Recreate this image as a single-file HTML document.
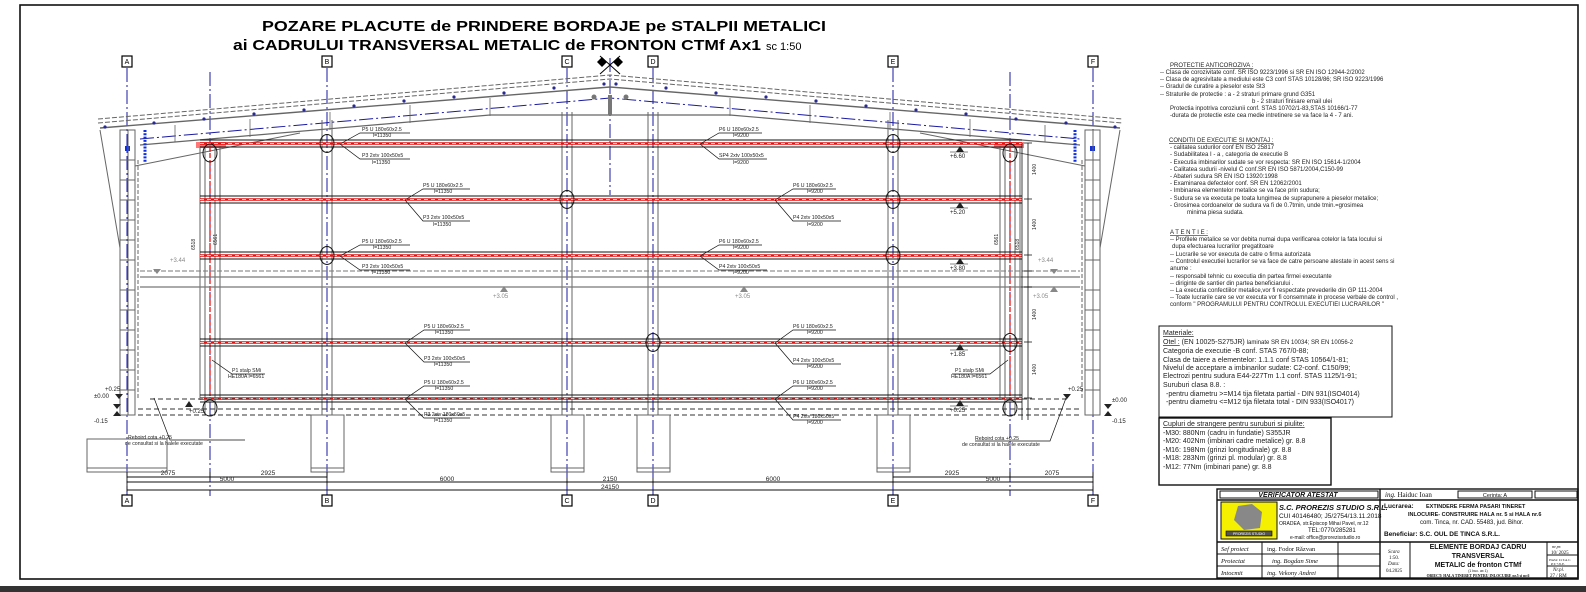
<!DOCTYPE html>
<html><head><meta charset="utf-8"><style>
html,body{margin:0;padding:0;background:#fff;}
svg{display:block;font-family:"Liberation Sans",sans-serif;}
</style></head><body>
<svg width="1586" height="592" viewBox="0 0 1586 592" xmlns="http://www.w3.org/2000/svg">
<rect x="0" y="0" width="1586" height="592" fill="#fff"/>
<rect x="20" y="5" width="1558" height="574" fill="none" stroke="#111" stroke-width="1.6"/>
<rect x="0" y="586" width="1586" height="6" fill="#333"/>

<text x="544" y="31" font-size="15" font-weight="bold" text-anchor="middle" textLength="564" lengthAdjust="spacingAndGlyphs">POZARE PLACUTE de PRINDERE BORDAJE pe STALPII METALICI</text>
<text x="233" y="50" font-size="15" font-weight="bold" textLength="528" lengthAdjust="spacingAndGlyphs">ai CADRULUI TRANSVERSAL METALIC de FRONTON CTMf Ax1</text>
<text x="766" y="50" font-size="11">sc 1:50</text>

<g stroke="#1a1aa0" stroke-width="1" stroke-dasharray="14,3,2,3" fill="none">
<line x1="127" y1="68" x2="127" y2="498"/><line x1="327" y1="68" x2="327" y2="498"/>
<line x1="567" y1="68" x2="567" y2="498"/><line x1="653" y1="68" x2="653" y2="498"/>
<line x1="893" y1="68" x2="893" y2="498"/><line x1="1093" y1="68" x2="1093" y2="498"/>
<line x1="210" y1="72" x2="210" y2="496"/><line x1="1010" y1="72" x2="1010" y2="496"/>
<line x1="610" y1="58" x2="610" y2="195"/>
<polyline points="140,139 610,98 1080,139"/>
</g>
<g font-size="7" text-anchor="middle">
<g fill="#fff" stroke="#000" stroke-width="1.2">
<rect x="122" y="56" width="10" height="11"/><rect x="322" y="56" width="10" height="11"/><rect x="562" y="56" width="10" height="11"/><rect x="648" y="56" width="10" height="11"/><rect x="888" y="56" width="10" height="11"/><rect x="1088" y="56" width="10" height="11"/>
<rect x="122" y="495" width="10" height="11"/><rect x="322" y="495" width="10" height="11"/><rect x="562" y="495" width="10" height="11"/><rect x="648" y="495" width="10" height="11"/><rect x="888" y="495" width="10" height="11"/><rect x="1088" y="495" width="10" height="11"/>
</g>
<text x="127" y="64">A</text><text x="327" y="64">B</text><text x="567" y="64">C</text><text x="653" y="64">D</text><text x="893" y="64">E</text><text x="1093" y="64">F</text>
<text x="127" y="503">A</text><text x="327" y="503">B</text><text x="567" y="503">C</text><text x="653" y="503">D</text><text x="893" y="503">E</text><text x="1093" y="503">F</text>
</g>
<g fill="#000"><path d="M597,62 l5,-5 5,5 -5,5z"/><path d="M613,62 l5,-5 5,5 -5,5z"/></g>
<line x1="600" y1="56" x2="620" y2="74" stroke="#000"/><line x1="620" y1="56" x2="600" y2="74" stroke="#000"/>

<g fill="none" stroke="#666" stroke-width="1">
<polyline points="98,119 610,75 1122,119" stroke-dasharray="5,2"/>
<polyline points="98,123 610,79 1122,123" stroke-dasharray="5,2"/>
<polyline points="100,128 610,87 1120,128" stroke-width="1.4"/>
<polyline points="140,145 490,115 730,115 1080,145" stroke-width="1.2"/>
<line x1="135" y1="166" x2="300" y2="133"/><line x1="1085" y1="166" x2="920" y2="133"/>
<line x1="100" y1="130" x2="120" y2="248"/><line x1="1120" y1="130" x2="1100" y2="248"/>
<g stroke-width="0.8">
<line x1="175" y1="125" x2="175" y2="142"/><line x1="250" y1="119" x2="250" y2="137"/><line x1="330" y1="112" x2="330" y2="130"/><line x1="410" y1="105" x2="410" y2="123"/><line x1="490" y1="98" x2="490" y2="116"/>
<line x1="1045" y1="125" x2="1045" y2="142"/><line x1="970" y1="119" x2="970" y2="137"/><line x1="890" y1="112" x2="890" y2="130"/><line x1="810" y1="105" x2="810" y2="123"/><line x1="730" y1="98" x2="730" y2="116"/>
</g>
</g>
<g fill="#2a2a90">
<circle cx="105" cy="127" r="1.6"/><circle cx="154" cy="123" r="1.6"/><circle cx="204" cy="119" r="1.6"/><circle cx="254" cy="114" r="1.6"/><circle cx="304" cy="110" r="1.6"/><circle cx="354" cy="106" r="1.6"/><circle cx="404" cy="101" r="1.6"/><circle cx="454" cy="97" r="1.6"/><circle cx="504" cy="93" r="1.6"/><circle cx="554" cy="88" r="1.6"/><circle cx="604" cy="84" r="1.6"/>
<circle cx="1115" cy="127" r="1.6"/><circle cx="1066" cy="123" r="1.6"/><circle cx="1016" cy="119" r="1.6"/><circle cx="966" cy="114" r="1.6"/><circle cx="916" cy="110" r="1.6"/><circle cx="866" cy="106" r="1.6"/><circle cx="816" cy="101" r="1.6"/><circle cx="766" cy="97" r="1.6"/><circle cx="716" cy="93" r="1.6"/><circle cx="666" cy="88" r="1.6"/><circle cx="616" cy="84" r="1.6"/>
</g>
<g fill="#1030e0">
<rect x="125" y="146" width="5" height="5"/><rect x="1090" y="146" width="5" height="5"/>
</g>
<g stroke="#1030e0" stroke-width="3" stroke-dasharray="2,1.3"><line x1="145" y1="130" x2="145" y2="163"/><line x1="1075" y1="130" x2="1075" y2="163"/></g>
<g fill="#777"><circle cx="594" cy="97" r="2.5"/><circle cx="626" cy="97" r="2.5"/><rect x="608" y="95" width="4" height="20"/></g>

<g fill="none" stroke="#666" stroke-width="1">
<rect x="120" y="130" width="15" height="285"/><line x1="128" y1="130" x2="128" y2="415"/>
<rect x="1085" y="130" width="15" height="285"/><line x1="1093" y1="130" x2="1093" y2="415"/>
<path d="M120,160h15M120,180h15M120,200h15M120,220h15M120,240h15M120,260h15M120,290h15M120,310h15M120,330h15M120,350h15M120,370h15M120,390h15"/>
<path d="M1085,160h15M1085,180h15M1085,200h15M1085,220h15M1085,240h15M1085,260h15M1085,290h15M1085,310h15M1085,330h15M1085,350h15M1085,370h15M1085,390h15"/>
<line x1="138" y1="160" x2="138" y2="400" stroke-dasharray="4,2"/><line x1="1082" y1="160" x2="1082" y2="400" stroke-dasharray="4,2"/>
</g>

<g fill="none" stroke="#666" stroke-width="1">
<path d="M322,120V415M332,120V415M562,112V415M572,112V415M648,112V415M658,112V415M888,120V415M898,120V415"/>
<path d="M200,146V400M205,146V415M215,146V415M220,146V400M1000,146V400M1005,146V415M1015,146V415M1020,146V400"/>
</g>
<g stroke="#e00" stroke-width="1.2" stroke-dasharray="5,2"><line x1="210" y1="146" x2="210" y2="400"/><line x1="1010" y1="146" x2="1010" y2="400"/></g>
<rect x="196" y="142" width="30" height="6" fill="#f55" opacity="0.8"/><rect x="994" y="142" width="30" height="6" fill="#f55" opacity="0.8"/>

<g fill="none" stroke="#777">
<line x1="140" y1="271" x2="1080" y2="271" stroke-dasharray="5,2"/>
<line x1="140" y1="277" x2="1080" y2="277" stroke-width="1.3"/>
<line x1="140" y1="287" x2="1080" y2="287" stroke-width="1.3"/>
</g>

<g>
<g stroke="#111" stroke-width="0.9">
<path d="M200,140H1022M200,147H1022M200,196H1022M200,203H1022M200,252H1022M200,259H1022M200,339H1022M200,346H1022M200,395H1022M200,402H1022"/>
</g>
<g stroke="#e51010" stroke-width="2.6">
<path d="M200,143.5H1022M200,199.5H1022M200,255.5H1022M200,342.5H1022M200,398.5H1022"/>
</g>
<g stroke="#fff" stroke-width="0.8" stroke-dasharray="4,3">
<path d="M200,143.5H1022M200,199.5H1022M200,255.5H1022M200,342.5H1022M200,398.5H1022"/>
</g>
</g>
<g fill="none" stroke="#111" stroke-width="1">
<ellipse cx="327" cy="143.5" rx="7" ry="9"/><ellipse cx="893" cy="143.5" rx="7" ry="9"/>
<ellipse cx="567" cy="199.5" rx="7" ry="9"/><ellipse cx="893" cy="199.5" rx="7" ry="9"/>
<ellipse cx="327" cy="255.5" rx="7" ry="9"/><ellipse cx="893" cy="255.5" rx="7" ry="9"/>
<ellipse cx="653" cy="342.5" rx="7" ry="9"/><ellipse cx="1010" cy="342.5" rx="7" ry="9"/>
<ellipse cx="210" cy="153" rx="7" ry="9"/><ellipse cx="1010" cy="153" rx="7" ry="9"/>
<ellipse cx="210" cy="408" rx="7" ry="8"/><ellipse cx="1010" cy="408" rx="7" ry="8"/>
</g>

<g fill="none" stroke="#333" stroke-dasharray="5,3">
<line x1="150" y1="399" x2="1070" y2="399"/><line x1="138" y1="409" x2="1082" y2="409"/><line x1="138" y1="415" x2="1082" y2="415"/>
</g>
<g fill="none" stroke="#666">
<rect x="311" y="415" width="33" height="57"/><line x1="311" y1="468" x2="344" y2="468"/>
<rect x="551" y="415" width="33" height="57"/><line x1="551" y1="468" x2="584" y2="468"/>
<rect x="637" y="415" width="33" height="57"/><line x1="637" y1="468" x2="670" y2="468"/>
<rect x="877" y="415" width="33" height="57"/><line x1="877" y1="468" x2="910" y2="468"/>
<rect x="87" y="439" width="80" height="33"/><line x1="87" y1="468" x2="167" y2="468"/>
</g>

<g stroke="#111" stroke-width="0.9">
<line x1="127" y1="477" x2="327" y2="477"/><line x1="893" y1="477" x2="1093" y2="477"/>
<line x1="127" y1="482" x2="1093" y2="482"/><line x1="127" y1="490" x2="1093" y2="490"/>
<path d="M127,472V492M210,472V480M327,472V486M567,478V486M653,478V486M893,472V486M1010,472V480M1093,472V492"/>
</g>
<g font-size="6.5" text-anchor="middle" fill="#222">
<text x="168" y="475">2075</text><text x="268" y="475">2925</text><text x="952" y="475">2925</text><text x="1052" y="475">2075</text>
<text x="227" y="481">5000</text><text x="447" y="481">6000</text><text x="610" y="481">2150</text><text x="773" y="481">6000</text><text x="993" y="481">5000</text>
<text x="610" y="489">24150</text>
</g>

<g stroke="#111" stroke-width="0.8"><line x1="1028" y1="143" x2="1028" y2="420"/><line x1="1022" y1="143" x2="1022" y2="420"/>
<path d="M1024,143h8M1024,199h8M1024,255h8M1024,271h8M1024,287h8M1024,342h8M1024,398h8"/></g>
<g font-size="5" fill="#222">
<text transform="translate(1036,175) rotate(-90)">1400</text><text transform="translate(1036,230) rotate(-90)">1400</text><text transform="translate(1036,320) rotate(-90)">1400</text><text transform="translate(1036,375) rotate(-90)">1400</text>
<text transform="translate(1019,250) rotate(-90)">6518</text><text transform="translate(998,245) rotate(-90)">6561</text>
<text transform="translate(195,250) rotate(-90)">6518</text><text transform="translate(217,245) rotate(-90)">6561</text>
</g>

<g font-size="6" fill="#222">
<g><path d="M956,152l4,-6 4,6z"/><line x1="950" y1="152" x2="968" y2="152" stroke="#111" stroke-width="0.6"/><text x="950" y="158">+6.60</text></g>
<g><path d="M956,208l4,-6 4,6z"/><line x1="950" y1="208" x2="968" y2="208" stroke="#111" stroke-width="0.6"/><text x="950" y="214">+5.20</text></g>
<g><path d="M956,264l4,-6 4,6z"/><line x1="950" y1="264" x2="968" y2="264" stroke="#111" stroke-width="0.6"/><text x="950" y="270">+3.80</text></g>
<g><path d="M956,350l4,-6 4,6z"/><line x1="950" y1="350" x2="968" y2="350" stroke="#111" stroke-width="0.6"/><text x="950" y="356">+1.85</text></g>
<g><path d="M956,406l4,-6 4,6z"/><line x1="950" y1="406" x2="968" y2="406" stroke="#111" stroke-width="0.6"/><text x="950" y="412">+0.25</text></g>
<g><path d="M185,407l4,-6 4,6z"/><text x="189" y="413">+0.25</text></g>
<g fill="#888"><path d="M153,269l4,5 4,-5z"/><text x="170" y="262">+3.44</text><path d="M1050,269l4,5 4,-5z"/><text x="1038" y="262">+3.44</text>
<path d="M500,292l4,-6 4,6z"/><text x="493" y="298">+3.05</text><path d="M740,292l4,-6 4,6z"/><text x="735" y="298">+3.05</text><path d="M1050,292l4,-6 4,6z"/><text x="1033" y="298">+3.05</text></g>
<g><path d="M113,404l4,5 4,-5z"/><text x="94" y="398">±0.00</text><path d="M113,416l4,-5 4,5z"/><text x="94" y="423">-0.15</text>
<path d="M1104,404l4,5 4,-5z"/><text x="1112" y="402">±0.00</text><path d="M1104,416l4,-5 4,5z"/><text x="1112" y="423">-0.15</text>
<path d="M115,394l4,5 4,-5z"/><text x="105" y="391">+0.25</text>
<path d="M1063,394l4,5 4,-5z"/><text x="1068" y="391">+0.25</text></g>
</g>

<g font-size="5.2" fill="#222" stroke="none">
<text x="362" y="131">P5 U 180x60x2.5</text><text x="373" y="137">l=11350</text>
<text x="362" y="157">P3 2xtv 100x50x5</text><text x="372" y="164">l=11350</text>
<text x="423" y="187">P5 U 180x60x2.5</text><text x="434" y="193">l=11350</text>
<text x="423" y="219">P3 2xtv 100x50x5</text><text x="433" y="226">l=11350</text>
<text x="362" y="243">P5 U 180x60x2.5</text><text x="373" y="249">l=11350</text>
<text x="362" y="268">P3 2xtv 100x50x5</text><text x="372" y="274">l=11350</text>
<text x="424" y="328">P5 U 180x60x2.5</text><text x="435" y="334">l=11350</text>
<text x="424" y="360">P3 2xtv 100x50x5</text><text x="434" y="366">l=11350</text>
<text x="424" y="384">P5 U 180x60x2.5</text><text x="435" y="390">l=11350</text>
<text x="424" y="416">P3 2xtv 180x50x5</text><text x="434" y="422">l=11350</text>
<text x="719" y="131">P6 U 180x60x2.5</text><text x="733" y="137">l=9200</text>
<text x="719" y="157">SP4 2xtv 100x50x5</text><text x="733" y="164">l=9200</text>
<text x="793" y="187">P6 U 180x60x2.5</text><text x="807" y="193">l=9200</text>
<text x="793" y="219">P4 2xtv 100x50x5</text><text x="807" y="226">l=9200</text>
<text x="719" y="243">P6 U 180x60x2.5</text><text x="733" y="249">l=9200</text>
<text x="719" y="268">P4 2xtv 100x50x5</text><text x="733" y="274">l=9200</text>
<text x="793" y="328">P6 U 180x60x2.5</text><text x="807" y="334">l=9200</text>
<text x="793" y="362">P4 2xtv 100x50x5</text><text x="807" y="368">l=9200</text>
<text x="793" y="384">P6 U 180x60x2.5</text><text x="807" y="390">l=9200</text>
<text x="793" y="418">P4 2xtv 180x50x5</text><text x="807" y="424">l=9200</text>
<text x="232" y="372">P1 stalp SMi</text><text x="228" y="378">HE180A l=6561</text>
<text x="955" y="372">P1 stalp SMi</text><text x="951" y="378">HE180A l=6561</text>
<text x="128" y="439">Reboird cota +0.25</text><text x="125" y="445">de consultat si la halele executate</text>
<text x="975" y="440">Reboird cota +0.25</text><text x="962" y="446">de consultat si la halele executate</text>
</g>
<g fill="none" stroke="#111" stroke-width="0.7">
<polyline points="340,144 360,133 410,133"/><polyline points="340,144 360,159 410,159"/>
<polyline points="405,200 423,189 470,189"/><polyline points="405,200 423,221 470,221"/>
<polyline points="340,256 360,245 410,245"/><polyline points="340,256 360,270 410,270"/>
<polyline points="405,343 424,330 470,330"/><polyline points="405,343 424,362 470,362"/>
<polyline points="405,399 424,386 470,386"/><polyline points="405,399 424,418 470,418"/>
<polyline points="700,144 719,133 762,133"/><polyline points="700,144 719,159 767,159"/>
<polyline points="775,200 793,189 836,189"/><polyline points="775,200 793,221 841,221"/>
<polyline points="700,256 719,245 762,245"/><polyline points="700,256 719,270 767,270"/>
<polyline points="775,343 793,330 836,330"/><polyline points="775,343 793,364 841,364"/>
<polyline points="775,399 793,386 836,386"/><polyline points="775,399 793,420 841,420"/>
<polyline points="212,360 232,374 265,374"/><polyline points="1008,360 990,374 952,374"/>
<polyline points="154,398 170,440 245,440"/><polyline points="1066,398 1050,441 975,441"/>
</g>

<g font-size="6" fill="#222">
<text x="1170" y="67" text-decoration="underline">PROTECTIE  ANTICOROZIVA :</text>
<text x="1160" y="74">--        Clasa de corozivitate conf. SR ISO 9223/1996 si SR EN ISO 12944-2/2002</text>
<text x="1160" y="81">--        Clasa de agresivitate a mediului este C3 conf STAS 10128/86; SR ISO 9223/1996</text>
<text x="1160" y="88">--        Gradul de curatire a pieselor este St3</text>
<text x="1160" y="96">--        Straturile de protectie : a - 2 straturi primare grund G351</text>
<text x="1252" y="103">b - 2 straturi finisare email ulei</text>
<text x="1170" y="110">Protectia inpotriva coroziunii conf. STAS 10702/1-83,STAS 10166/1-77</text>
<text x="1170" y="117">-durata de protectie este cea medie intretinere se va face la 4 - 7 ani.</text>
<text x="1169" y="142" text-decoration="underline">CONDITII DE EXECUTIE SI MONTAJ :</text>
<text x="1170" y="149">-       calitatea sudurilor conf  EN ISO 25817</text>
<text x="1170" y="156">-       Sudabilitatea  I - a , categoria de executie B</text>
<text x="1170" y="164">-       Executia imbinarilor sudate se vor respecta:  SR EN ISO 15614-1/2004</text>
<text x="1170" y="171">-       Calitatea sudurii  -nivelul C  conf.SR EN ISO 5871/2004,C150-99</text>
<text x="1170" y="178">-       Abateri sudura SR EN ISO 13920:1998</text>
<text x="1170" y="185">-       Examinarea defectelor conf. SR EN 12062/2001</text>
<text x="1170" y="192">-       Imbinarea elementelor metalice se va face prin sudura;</text>
<text x="1170" y="200">-       Sudura se va executa pe toata lungimea de suprapunere a pieselor metalice;</text>
<text x="1170" y="207">-       Grosimea cordoanelor de sudura va fi de 0.7tmin, unde tmin.=grosimea</text>
<text x="1187" y="214">minima piesa sudata.</text>
<text x="1170" y="234" text-decoration="underline">A T E N T I E :</text>
<text x="1170" y="241">--         Profilele metalice se vor debita numai dupa verificarea cotelor la fata locului si</text>
<text x="1172" y="248">dupa efectuarea lucrarilor pregatitoare</text>
<text x="1170" y="256">--         Lucrarile  se vor executa de catre o firma autorizata</text>
<text x="1170" y="263">--        Controlul executiei lucrarilor se va face de catre persoane atestate in acest sens si</text>
<text x="1170" y="270">anume :</text>
<text x="1170" y="278">--        responsabil tehnic cu executia din partea firmei executante</text>
<text x="1170" y="285">--        diriginte de santier din partea beneficiarului .</text>
<text x="1170" y="292">--        La executia confectiilor metalice,vor fi respectate prevederile din GP 111-2004</text>
<text x="1170" y="299">--         Toate lucrarile care se vor executa vor fi consemnate in procese verbale de control ,</text>
<text x="1170" y="306">conform " PROGRAMULUI PENTRU CONTROLUL EXECUTIEI LUCRARILOR "</text>
</g>

<rect x="1159" y="326" width="233" height="91" fill="none" stroke="#111" stroke-width="1"/>
<rect x="1159" y="418" width="172" height="67" fill="none" stroke="#111" stroke-width="1.4"/>
<g font-size="7" fill="#222">
<text x="1163" y="335" text-decoration="underline">Materiale:</text>
<text x="1163" y="344"><tspan text-decoration="underline">Otel :</tspan>  (EN 10025-S275JR) <tspan font-size="6">laminate SR EN 10034; SR EN 10056-2</tspan></text>
<text x="1163" y="353">Categoria de executie -B conf. STAS 767/0-88;</text>
<text x="1163" y="362">Clasa de taiere a elementelor: 1.1.1 conf STAS 10564/1-81;</text>
<text x="1163" y="370">Nivelul de acceptare a imbinarilor sudate: C2-conf. C150/99;</text>
<text x="1163" y="378">Electrozi pentru sudura E44-227Tm 1.1 conf. STAS 1125/1-91;</text>
<text x="1163" y="387">Suruburi clasa 8.8. :</text>
<text x="1166" y="396">-pentru diametru &gt;=M14 tija filetata partial - DIN 931(ISO4014)</text>
<text x="1166" y="404">-pentru diametru &lt;=M12 tija filetata total - DIN 933(ISO4017)</text>
<text x="1163" y="426" text-decoration="underline">Cupluri de strangere pentru suruburi si piulite:</text>
<text x="1163" y="435">-M30: 880Nm (cadru in fundatie) S355JR</text>
<text x="1163" y="443">-M20: 402Nm (imbinari cadre metalice) gr. 8.8</text>
<text x="1163" y="452">-M16: 198Nm (grinzi longitudinale) gr. 8.8</text>
<text x="1163" y="460">-M18: 283Nm (grinzi pl. modular) gr. 8.8</text>
<text x="1163" y="469">-M12: 77Nm  (imbinari pane) gr. 8.8</text>
</g>

<g fill="none" stroke="#111" stroke-width="1">
<rect x="1217" y="489" width="361" height="89" stroke-width="1.4"/>
<line x1="1217" y1="500" x2="1578" y2="500" stroke-width="1.4"/>
<line x1="1217" y1="542" x2="1578" y2="542" stroke-width="1.4"/>
<line x1="1380" y1="489" x2="1380" y2="578" stroke-width="1.4"/>
<rect x="1220" y="491" width="158" height="7"/>
<rect x="1458" y="491" width="74" height="7"/><rect x="1535" y="491" width="42" height="7"/>
<line x1="1217" y1="554" x2="1380" y2="554"/><line x1="1217" y1="566" x2="1380" y2="566"/>
<line x1="1262" y1="542" x2="1262" y2="578"/><line x1="1338" y1="542" x2="1338" y2="578"/>
<line x1="1410" y1="542" x2="1410" y2="578"/><line x1="1547" y1="542" x2="1547" y2="578"/>
<line x1="1547" y1="555" x2="1578" y2="555"/><line x1="1547" y1="566" x2="1578" y2="566"/>
</g>
<rect x="1221" y="502" width="56" height="37" fill="#f5f000" stroke="#111"/>
<polygon points="1238,506 1252,504 1262,512 1260,528 1244,530 1234,520" fill="#888"/>
<rect x="1226" y="531" width="46" height="5" fill="#555" stroke="#000" stroke-width="0.6"/>
<text x="1249" y="535" font-size="3.5" fill="#fff" text-anchor="middle">PROREZIS STUDIO</text>
<g fill="#111">
<text x="1298" y="497" font-size="7" font-weight="bold" font-style="italic" text-anchor="middle">VERIFICATOR  ATESTAT</text>
<text x="1385" y="497" font-size="7" font-family="Liberation Serif" font-style="italic">ing. <tspan font-style="normal">Haiduc Ioan</tspan></text>
<text x="1495" y="497" font-size="5.5" text-anchor="middle">Cerinta: A</text>
<text x="1279" y="510" font-size="7.5" font-weight="bold" font-style="italic">S.C. PROREZIS STUDIO S.R.L.</text>
<text x="1279" y="518" font-size="6.5">CUI 40146480; J5/2754/13.11.2018</text>
<text x="1279" y="525" font-size="5">ORADEA, str.Episcop Mihai Pavel, nr.12</text>
<text x="1308" y="532" font-size="6">TEL:0770/285281</text>
<text x="1290" y="539" font-size="5">e-mail: office@prorezisstudio.ro</text>
<text x="1384" y="508" font-size="6.5" font-weight="bold">Lucrarea:</text>
<text x="1426" y="508" font-size="5.5" font-weight="bold">EXTINDERE FERMA PASARI TINERET</text>
<text x="1408" y="516" font-size="5.5" font-weight="bold">INLOCUIRE-  CONSTRUIRE HALA nr. 5 si HALA nr.6</text>
<text x="1420" y="524" font-size="6">com. Tinca, nr. CAD. 55483, jud. Bihor.</text>
<text x="1384" y="536" font-size="6.5" font-weight="bold">Beneficiar:   S.C. OUL DE TINCA S.R.L.</text>
<g font-family="Liberation Serif" font-style="italic" font-size="6.5">
<text x="1221" y="551">Sef proiect</text><text x="1221" y="563">Proiectat</text><text x="1221" y="575">Intocmit</text>
<text x="1267" y="551" font-style="normal">ing. Fodor Răzvan</text><text x="1272" y="563">ing. Bogdan Sime</text><text x="1267" y="575">ing. Vekony Andrei</text>
<text x="1388" y="553" font-size="5">Scara</text><text x="1389" y="559" font-size="5" font-style="normal">1:50.</text><text x="1388" y="565" font-size="5">Data:</text><text x="1386" y="572" font-size="5" font-style="normal">04.2025</text>
<text x="1552" y="548" font-size="4.5">nr.pr.</text><text x="1551" y="554" font-size="5" font-style="normal">10/ 2025</text>
<text x="1549" y="561" font-size="3.5">FAZA: D.T.A.C.</text><text x="1551" y="565" font-size="3.5">P.T.+D.E.</text>
<text x="1553" y="571" font-size="5">Nr.pl.</text><text x="1550" y="577" font-size="5" font-style="normal">27 / RM</text>
</g>
<g font-weight="bold" text-anchor="middle" font-size="7">
<text x="1478" y="549">ELEMENTE BORDAJ CADRU</text>
<text x="1478" y="558">TRANSVERSAL</text>
<text x="1478" y="567">METALIC de fronton CTMf</text>
</g>
<text x="1478" y="572" font-size="3.5" text-anchor="middle">(1 buc. ax 1)</text>
<text x="1478" y="577" font-size="3.8" font-weight="bold" text-anchor="middle" font-family="Liberation Serif">OBIECT: HALA TINERET PENTRU INLOCUIRE nr.5 si nr.6</text>
</g>
</svg>
</body></html>
